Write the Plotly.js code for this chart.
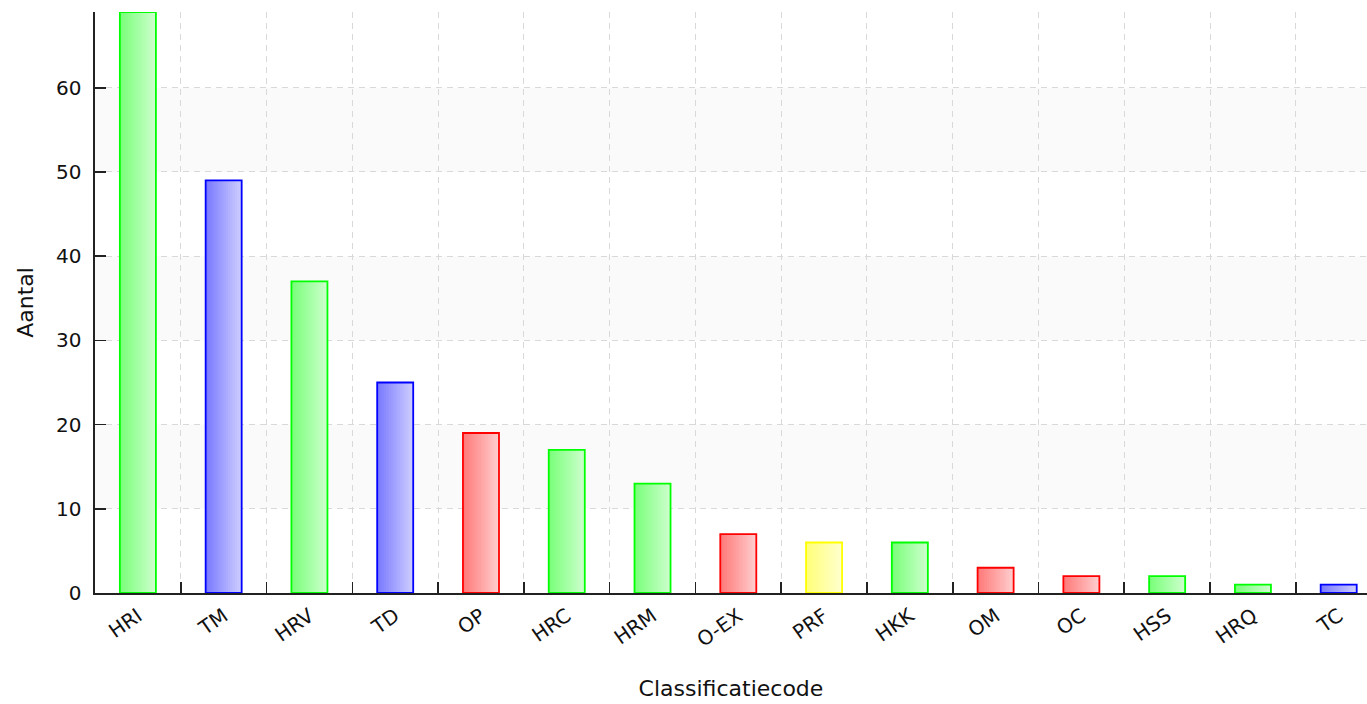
<!DOCTYPE html>
<html>
<head>
<meta charset="utf-8">
<script src="https://cdn.plot.ly/plotly-3.0.1.min.js"></script>
<style>
html,body{margin:0;padding:0;background:#fff;}
#chart{width:1367px;height:704px;}
</style>
</head>
<body>
<div id="chart"></div>
<script>
// ---- data ----
var categories = ["HRI","TM","HRV","TD","OP","HRC","HRM","O-EX","PRF","HKK","OM","OC","HSS","HRQ","TC"];
var counts     = [69, 49, 37, 25, 19, 17, 13, 7, 6, 6, 3, 2, 2, 1, 1];
var colorGroup = ["green","blue","green","blue","red","green","green","red","yellow","green","red","red","green","green","blue"];
var yTicks     = [0, 10, 20, 30, 40, 50, 60];

// ---- styles ----
var baseRGB = {green:[0,255,0], blue:[0,0,255], red:[255,0,0], yellow:[255,255,0]};
function mix(rgb, t){
  return 'rgb(' + rgb.map(function(c){return Math.round(c + (255 - c) * t);}).join(',') + ')';
}
var BW = 0.42, N = 16, T0 = 0.48, T1 = 0.80;
var traces = [];
for (var k = 0; k < N; k++) {
  var t = T0 + (T1 - T0) * k / (N - 1);
  traces.push({
    type: 'bar', x: categories, y: counts,
    width: BW * (1 - k / N),
    offset: -BW / 2 + BW * k / N,
    marker: {color: colorGroup.map(function(g){return mix(baseRGB[g], t);}), line: {width: 0}},
    hoverinfo: 'skip', showlegend: false
  });
}
traces.push({
  type: 'bar', x: categories, y: counts, width: BW, offset: -BW / 2,
  marker: {color: 'rgba(0,0,0,0)', line: {width: 1.8, color: colorGroup.map(function(g){return mix(baseRGB[g], 0);})}},
  hoverinfo: 'skip', showlegend: false
});

// alternating background bands
var shapes = [];
for (var i = 1; i < yTicks.length; i += 2) {
  shapes.push({type: 'rect', xref: 'paper', yref: 'y', x0: 0, x1: 1, y0: yTicks[i], y1: yTicks[i + 1] !== undefined ? yTicks[i + 1] : yTicks[i] + 10,
    fillcolor: '#fafafa', line: {width: 0}, layer: 'below'});
}

var font = 'DejaVu Sans, Verdana, sans-serif';
var layout = {
  width: 1367, height: 704,
  margin: {l: 95, r: 0, t: 12, b: 111},
  paper_bgcolor: '#ffffff', plot_bgcolor: '#ffffff',
  barmode: 'overlay',
  showlegend: false,
  shapes: shapes,
  font: {family: font, color: '#111', size: 20},
  xaxis: {
    type: 'category',
    range: [-0.5, 14.33],
    tickson: 'boundaries',
    ticks: 'inside', ticklen: 11, tickwidth: 1.6, tickcolor: '#222',
    showline: true, linecolor: '#222', linewidth: 1.6,
    showgrid: true, gridcolor: '#d9d9d9', gridwidth: 1, griddash: '6px,5px',
    tickangle: -35,
    ticklabelstandoff: 2,
    tickfont: {family: font, size: 20, color: '#111'},
    title: {text: 'Classificatiecode', font: {family: font, size: 22, color: '#111'}, standoff: 30},
    fixedrange: true, zeroline: false
  },
  yaxis: {
    range: [0, 69],
    tickvals: yTicks,
    ticks: 'inside', ticklen: 11, tickwidth: 1.6, tickcolor: '#222',
    showline: true, linecolor: '#222', linewidth: 1.6,
    showgrid: true, gridcolor: '#d9d9d9', gridwidth: 1, griddash: '6px,5px',
    ticklabelstandoff: 8,
    tickfont: {family: font, size: 20, color: '#111'},
    title: {text: 'Aantal', font: {family: font, size: 22, color: '#111'}, standoff: 16},
    fixedrange: true, zeroline: false
  }
};

Plotly.newPlot('chart', traces, layout, {displayModeBar: false, staticPlot: true});
</script>
</body>
</html>
